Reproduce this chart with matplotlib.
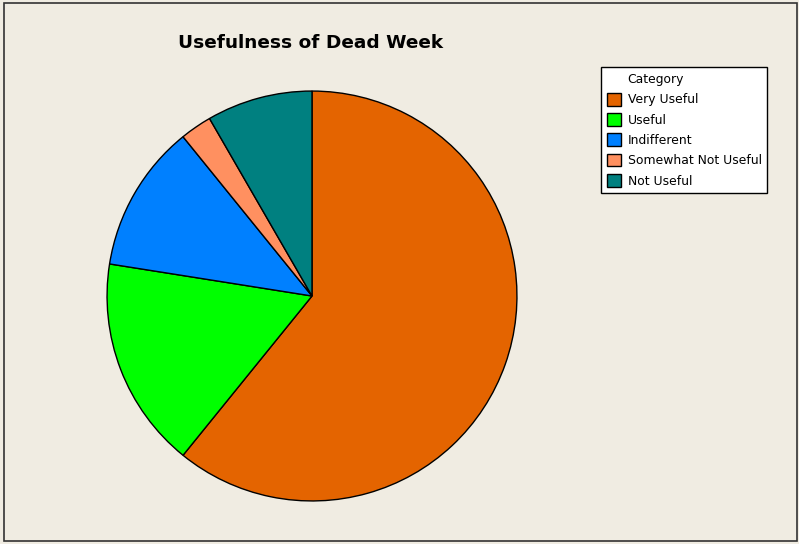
import matplotlib.pyplot as plt
from matplotlib.patches import Patch, Rectangle

categories = ["Very Useful", "Useful", "Indifferent", "Somewhat Not Useful", "Not Useful"]
counts = [73, 20, 14, 3, 10]
colors = ["#E46400", "#00FF00", "#0080FF", "#FF9060", "#008080"]
title = "Usefulness of Dead Week"
legend_title = "Category"

bg = "#F0ECE2"
W, H = 799, 544
fig = plt.figure(figsize=(W / 100, H / 100), dpi=100, facecolor=bg)

# frame around the chart
fig.patches.append(Rectangle((4 / W, 3 / H), 793 / W, 538 / H, transform=fig.transFigure,
                             fill=False, edgecolor="#333333", linewidth=1.2))

# pie axes placed by pixel: center (312, 296), radius ~205
cx, cy, r = 312, 296, 207
ax = fig.add_axes([(cx - r) / W, (H - cy - r) / H, 2 * r / W, 2 * r / H])
ax.pie(counts, colors=colors, startangle=90, counterclock=False, radius=1,
       wedgeprops=dict(edgecolor="black", linewidth=1.0))
ax.set_xlim(-1.01, 1.01)
ax.set_ylim(-1.01, 1.01)
ax.set_aspect("equal")
ax.axis("off")

fig.text(311 / W, 1 - 43 / H, title, ha="center", va="center",
         fontsize=13.3, fontweight="bold")

handles = [Patch(facecolor="none", edgecolor="none")]
handles += [Patch(facecolor=c, edgecolor="black", linewidth=1.0) for c in colors]
labels = [legend_title] + categories
leg = fig.legend(handles, labels, loc="upper left",
                 bbox_to_anchor=(601 / W, 1 - 67 / H), bbox_transform=fig.transFigure,
                 fontsize=8.9, frameon=True, fancybox=False, framealpha=1,
                 edgecolor="black", handlelength=1.2, handleheight=1.2,
                 handletextpad=0.5, labelspacing=0.55, borderpad=0.45, borderaxespad=0)
leg.get_frame().set_linewidth(1.0)
leg.get_frame().set_facecolor("white")

fig.savefig("out.png", dpi=100, facecolor=bg)
